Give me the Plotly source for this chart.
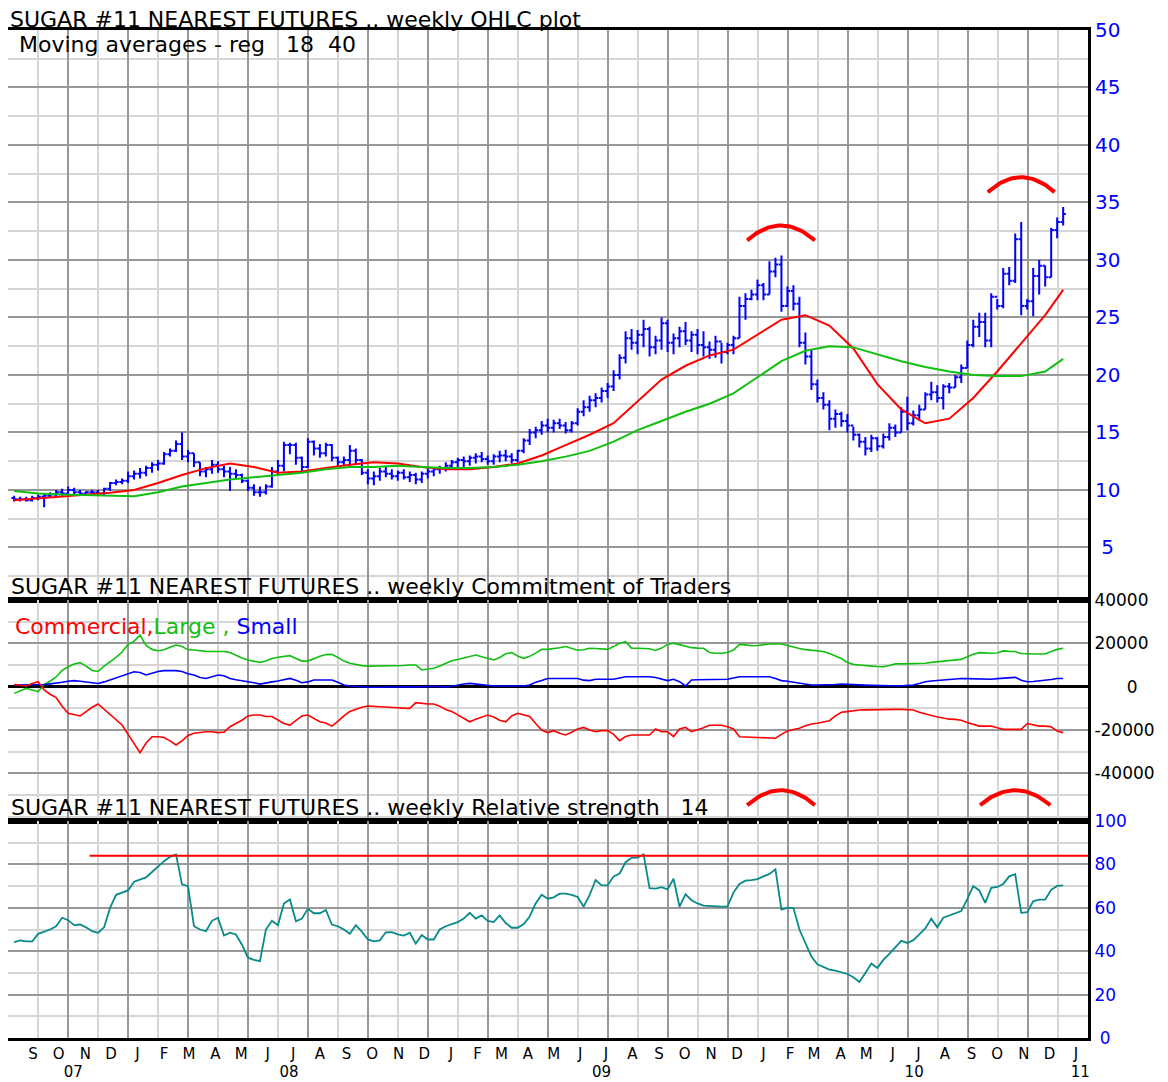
import pandas as pd
import numpy as np
import plotly.graph_objects as go

# ---------------- data ----------------
N_WEEKS = 176
first_week = "2007-08-24"
weeks = pd.date_range(first_week, periods=N_WEEKS, freq="7D")

price_open = [9.3,9.2,9.2,9.1,9.3,9.4,9.5,9.6,9.8,9.7,
              10.0,9.8,9.7,9.8,9.8,9.7,10.1,10.6,10.7,10.8,
              11.2,11.4,11.5,11.9,12.2,12.3,13.1,13.4,14.0,12.9,
              13.2,12.4,11.6,11.8,12.2,11.8,11.6,11.4,11.3,10.8,
              10.2,9.8,9.8,10.3,11.6,12.1,13.9,13.9,12.8,12.0,
              14.2,13.6,13.2,13.9,12.8,12.4,12.6,13.4,12.6,11.5,
              11.0,11.2,11.6,11.4,11.2,11.5,11.1,11.3,10.9,11.4,
              11.6,11.8,11.9,12.1,12.4,12.6,12.5,12.8,12.9,12.7,
              12.5,12.9,13.0,12.9,12.6,13.4,14.3,15.0,15.2,15.6,
              15.4,15.8,15.6,15.2,15.8,16.8,17.2,17.8,18.0,18.6,
              19.0,20.0,21.5,23.2,22.8,23.5,24.0,22.4,23.0,24.5,
              22.8,23.2,23.8,23.0,23.5,22.6,22.4,22.2,22.9,22.0,
              22.6,23.2,26.0,26.6,27.0,27.8,27.0,29.0,29.6,26.0,
              27.3,26.2,22.8,21.6,19.2,18.0,17.4,16.2,16.6,16.0,
              15.6,14.8,14.2,13.6,14.5,13.8,14.6,15.4,15.0,16.8,
              15.8,16.5,17.0,18.3,18.5,18.0,19.0,18.9,19.8,20.6,
              22.6,24.2,24.6,23.0,26.8,26.0,28.8,28.2,31.8,26.0,
              26.4,28.6,29.5,28.5,32.6,33.3]
price_high = [9.5,9.4,9.4,9.5,9.6,9.7,9.8,10.0,10.1,10.3,
              10.2,10.0,9.9,10.0,10.0,10.2,10.7,10.9,11.0,11.6,
              11.7,11.9,12.1,12.4,12.6,13.3,13.6,14.3,15.0,13.5,
              13.2,12.4,12.0,12.6,12.5,12.1,12.0,11.8,11.4,10.9,
              10.5,10.3,10.5,12.0,12.6,14.2,14.1,14.1,12.9,14.5,
              14.3,14.0,14.1,14.0,12.9,12.9,13.9,13.6,12.7,11.8,
              11.6,11.9,12.0,11.8,11.7,11.8,11.6,11.5,11.6,11.9,
              12.0,12.1,12.4,12.6,12.8,12.9,13.0,13.2,13.3,13.0,
              13.1,13.4,13.5,13.2,13.5,14.5,15.3,15.5,16.0,16.2,
              16.1,16.2,15.9,16.0,17.1,17.8,18.2,18.4,18.9,19.3,
              20.4,21.8,23.8,24.0,23.9,24.8,24.2,23.4,25.0,24.8,
              23.6,24.2,24.6,23.8,24.0,23.8,22.9,23.4,22.8,22.8,
              23.4,26.8,27.1,27.4,28.3,28.0,29.9,30.2,30.4,27.7,
              27.8,26.8,23.7,22.2,19.6,18.5,17.8,17.0,16.8,16.6,
              15.5,14.9,14.6,14.8,14.6,14.9,15.8,15.7,17.2,18.1,
              16.9,17.4,18.5,19.4,19.1,19.2,19.3,20.0,20.9,23.0,
              24.8,25.4,25.4,27.1,26.6,29.3,29.4,32.3,33.3,26.6,
              29.3,30.0,29.5,32.8,33.7,34.6]
price_low = [9.0,9.0,9.0,9.0,9.1,8.5,9.3,9.4,9.5,9.4,
             9.6,9.5,9.5,9.6,9.6,9.5,9.9,10.4,10.5,10.6,
             10.9,11.0,11.2,11.5,11.7,12.2,12.9,13.3,12.6,12.4,
             12.0,11.2,11.1,11.4,11.5,11.1,9.9,11.0,10.6,9.9,
             9.5,9.4,9.6,10.2,11.3,11.6,13.1,12.2,11.5,11.9,
             13.0,12.8,12.9,12.5,12.0,12.1,12.1,12.2,11.3,10.5,
             10.4,10.8,11.1,10.9,10.8,10.9,10.7,10.5,10.6,11.0,
             11.2,11.4,11.6,11.8,11.9,12.0,12.1,12.3,12.4,12.2,
             12.2,12.4,12.5,12.3,12.4,13.2,13.9,14.5,14.8,15.0,
             15.0,15.3,14.9,15.0,15.6,16.4,16.8,17.2,17.6,18.0,
             18.6,19.6,21.0,22.2,21.8,22.4,21.6,21.8,22.2,22.0,
             21.8,22.4,22.6,22.0,21.8,21.6,21.4,21.5,21.0,21.8,
             21.8,23.2,24.8,26.5,26.5,26.5,27.0,28.5,25.5,25.9,
             25.6,22.4,20.9,18.7,17.6,17.0,15.2,15.4,15.5,15.0,
             14.3,13.7,13.0,13.3,13.4,13.6,14.3,14.6,15.0,15.2,
             15.6,16.0,17.0,17.8,17.6,17.0,18.4,18.9,19.3,20.6,
             22.4,23.3,22.4,22.4,25.7,25.8,27.8,28.0,25.2,25.7,
             25.1,27.0,27.7,28.5,31.9,33.0]
price_close = [9.2,9.2,9.1,9.3,9.4,9.5,9.6,9.8,9.7,10.0,
               9.8,9.7,9.8,9.8,9.7,10.1,10.6,10.7,10.8,11.2,
               11.4,11.5,11.9,12.2,12.3,13.1,13.4,14.0,12.9,13.2,
               12.4,11.6,11.8,12.2,11.8,11.6,11.4,11.3,10.8,10.2,
               9.8,9.8,10.3,11.6,12.1,13.9,13.9,12.8,12.0,14.2,
               13.6,13.2,13.9,12.8,12.4,12.6,13.4,12.6,11.5,11.0,
               11.2,11.6,11.4,11.2,11.5,11.1,11.3,10.9,11.4,11.6,
               11.8,11.9,12.1,12.4,12.6,12.5,12.8,12.9,12.7,12.5,
               12.9,13.0,12.9,12.6,13.4,14.3,15.0,15.2,15.6,15.4,
               15.8,15.6,15.2,15.8,16.8,17.2,17.8,18.0,18.6,19.0,
               20.0,21.5,23.2,22.8,23.5,24.0,22.4,23.0,24.5,22.8,
               23.2,23.8,23.0,23.5,22.6,22.4,22.2,22.9,22.0,22.6,
               23.2,26.0,26.6,27.0,27.8,27.0,29.0,29.6,26.0,27.3,
               26.2,22.8,21.6,19.2,18.0,17.4,16.2,16.6,16.0,15.6,
               14.8,14.2,13.6,14.5,13.8,14.6,15.4,15.0,16.8,15.8,
               16.5,17.0,18.3,18.5,18.0,19.0,18.9,19.8,20.6,22.6,
               24.2,24.6,23.0,26.8,26.0,28.8,28.2,31.8,26.0,26.4,
               28.6,29.5,28.5,32.6,33.3,34.0]

# moving averages, read every 4th week
ma_weeks_idx = list(range(0, 176, 4)) + [175]
ma_18 = [9.1,9.25,9.4,9.6,9.75,10.0,10.6,11.3,11.9,12.3,
         12.0,11.5,11.6,11.9,12.2,12.4,12.3,12.0,11.8,11.8,
         12.0,12.3,13.0,13.9,14.8,15.8,17.7,19.6,20.8,21.7,
         22.2,23.5,24.8,25.2,24.3,22.3,19.2,17.0,15.8,16.2,
         18.0,20.3,22.8,25.2,27.4]
ma_40 = [9.9,9.7,9.6,9.55,9.5,9.45,9.8,10.3,10.6,10.9,
         11.1,11.3,11.5,11.8,12.0,12.0,12.1,12.0,11.9,11.9,
         12.0,12.2,12.5,12.9,13.4,14.2,15.2,16.0,16.8,17.5,
         18.4,19.8,21.2,22.1,22.5,22.4,21.8,21.2,20.7,20.3,
         20.0,19.9,19.9,20.3,21.4]

cot_commercial = [1000,800,300,1500,2300,-1500,-3500,-5000,-9000,-12300,
    -13000,-13500,-11500,-9500,-8000,-10500,-13100,-15500,-17700,-22000,
    -26000,-30500,-26000,-23100,-23100,-23500,-25000,-26900,-25000,-22500,
    -21500,-21000,-20800,-20800,-21200,-21000,-18500,-17000,-15500,-13500,
    -13100,-13100,-13800,-13800,-15500,-17000,-17700,-15500,-13500,-13100,
    -14500,-16200,-16800,-18200,-16000,-13500,-11500,-10500,-9500,-8900,
    -9000,-9300,-9500,-9500,-9700,-9900,-10000,-7400,-7800,-8000,
    -8000,-9000,-10500,-11500,-13000,-14500,-16200,-15000,-14000,-13100,
    -14000,-15500,-16200,-13500,-12300,-13000,-13800,-17000,-20000,-21200,
    -20300,-21500,-22300,-21000,-19500,-18800,-20000,-20800,-20300,-20300,
    -22000,-24900,-23000,-22300,-22300,-22300,-22300,-19500,-20800,-20800,
    -23000,-19500,-18800,-20800,-20000,-19000,-17800,-17800,-17800,-18500,
    -19500,-23100,-23200,-23300,-23400,-23500,-23700,-23800,-22000,-20500,
    -19800,-19200,-18000,-17200,-16900,-16300,-15700,-13500,-11800,-11500,
    -11000,-10800,-10700,-10600,-10500,-10500,-10500,-10500,-10500,-10500,
    -10800,-11800,-12600,-13500,-14000,-14500,-15000,-15100,-15500,-16500,
    -17500,-18200,-18200,-18200,-19000,-19700,-19700,-19700,-19700,-17000,
    -17500,-18200,-18200,-18500,-20500,-21200]
cot_large = [-3100,-2000,-800,-1500,-2300,1000,2500,4500,7500,9200,
    10500,11100,9500,7500,7000,9500,11500,13500,16000,19500,
    21000,23800,19000,17200,16600,17000,18200,19200,18500,17000,
    16900,16500,16300,16200,16200,16200,15800,14500,13200,12300,
    11800,11200,11800,13000,13600,14000,14300,13000,11800,11800,
    13000,14000,14800,14900,13500,11800,10800,10200,9700,9500,
    9500,9500,9500,9500,9600,9800,10000,10000,7700,8200,
    8500,9500,10800,12000,12500,13300,14000,14600,13800,13000,
    12300,13500,15200,15700,14200,13100,14000,15500,17200,17200,
    17500,18000,18500,17800,16800,17000,17700,17600,17300,17200,
    18500,20000,20800,17800,17700,17700,17500,16700,17800,19500,
    20000,19400,18800,18000,17800,17700,15800,15400,15400,15800,
    16900,19500,19300,18900,19000,19500,19700,19700,19700,19000,
    18200,17600,17100,16800,16600,16200,15300,14300,13000,11200,
    10300,10000,9600,9500,9300,9200,9800,10500,10500,10500,
    10500,10500,10800,11200,11500,11800,12000,12300,12600,13800,
    15000,15700,15500,15400,15500,16500,16300,16200,15300,15100,
    15100,15100,15100,16200,17200,17700]
cot_small = [800,800,800,800,800,1000,1300,1500,2000,2500,
    2800,2500,2200,1800,1500,2200,3100,4000,5000,6000,
    6900,6500,5400,6200,7000,7400,7400,7400,7000,6000,
    5400,4200,3800,4500,5400,5000,3800,3200,2800,2300,
    1800,1200,1800,2200,2600,3200,3800,3000,1800,2200,
    3100,3100,3100,3100,2000,800,300,0,-200,-300,
    -300,-300,-300,-300,-200,0,0,0,0,0,
    200,0,-100,200,800,1200,1500,1200,800,500,
    300,300,300,300,300,300,800,2000,2800,3800,
    3800,3800,3800,3800,3800,3000,2800,3400,3400,3400,
    3400,4000,4600,4600,4600,4600,4600,4200,3400,2800,
    3400,2300,300,3100,3200,3300,3400,3400,3400,3400,
    4000,4600,4600,4600,4600,4600,4600,3800,2800,2500,
    2000,1500,1000,800,800,800,800,1000,1200,1000,
    900,800,700,600,500,400,300,300,300,600,
    800,1500,2300,2600,2900,3200,3500,3700,3800,3700,
    3600,3500,3400,3400,3700,4000,4200,4300,3000,2300,
    2400,2600,2800,3300,3800,3800]

rsi_14 = [44.2,45,44.5,44.5,48,49,50,51.5,55.4,54.3,
    52,52.3,51,49.2,48.5,51,60,66,67,68,
    72,73.1,74,76.5,79,81.5,83.5,84.6,70.8,70,
    51.5,50,49.2,54,55.4,47.2,48.5,47.7,43,37,
    36,35.4,50,54,52,62,63.8,53.8,55,59.5,
    57.5,57.5,59,52.3,51.5,50,48,52,49,45.4,
    44.5,45,48.7,48.8,47.8,47.2,48.5,43.5,47.5,45.4,
    45.4,50,51.5,52.5,53.4,55,57.7,55,56.5,54,
    53.4,56.5,53,50.8,50.8,52.5,56,62,66,64.2,
    64.8,66.5,66.5,66,65,60.5,66,72.8,70.3,70.3,
    74.5,75.8,81,83,83.1,84.6,69,68.8,69.5,68.5,
    73.4,60.5,66.2,63.5,62,61,60.8,60.5,60.5,60.5,
    67,71,72.5,72.8,73.2,74.5,75.6,77.7,59.2,60,
    60,50,44,37.5,34,32.6,31.5,31,30.2,29.5,
    28,25.8,30,34.3,32.3,36,38.8,42,44.8,43.8,
    45.1,47.8,50.5,55,51,55.4,56.5,57.3,58.5,64,
    70,68,62.3,69.2,69.6,71,74.5,75.5,57.7,58,
    63,63.8,63.8,68.3,70.1,70.3]
rsi_level = 84
rsi_level_from = "2007-11-20"

# hand-drawn red arcs (start date, end date, base level, top level)
price_arcs = [("2009-12-27", "2010-03-16", 31.7, 33.0),
              ("2010-10-04", "2010-12-21", 35.9, 37.2)]
cot_arcs = [("2009-12-27", "2010-03-16", -54700, -47800),
            ("2010-09-25", "2010-12-16", -54700, -47800)]

month_ticks = pd.date_range("2007-09-01", "2011-01-01", freq="MS") + pd.Timedelta(days=14)
month_letters = [d.strftime("%b")[0] for d in month_ticks]
year_ticks = ["2007-11-01", "2008-07-10", "2009-07-10", "2010-07-10", "2011-01-20"]
year_labels = ["07", "08", "09", "10", "11"]

price_ticks = [5, 10, 15, 20, 25, 30, 35, 40, 45, 50]
price_tick_text = ["\u00a05", "10", "15", "20", "25", "30", "35", "40", "45", "50"]
cot_ticks = [40000, 20000, 0, -20000, -40000]
cot_tick_text = ["40000", "20000", "\u00a0\u00a0\u00a0\u00a0\u00a0\u00a00", "-20000", "-40000"]
rsi_ticks = [0, 20, 40, 60, 80, 100]
rsi_tick_text = ["\u00a00", "20", "40", "60", "80", "100"]

# ---------------- layout settings ----------------
X_START = pd.Timestamp("2007-08-16 19:00")
X_END = pd.Timestamp("2011-01-29")
grid_step_ms = (X_END - X_START).total_seconds() * 1000 / 36

FONT = "DejaVu Sans"
DARK = "#989898"
LIGHT = "#d6d6d6"
BLUE = "#0000ff"
RED = "#ff0000"
GREEN = "#10c010"

# the page body adds an 8px offset, so the figure is 8px smaller than the window
W, H = 1160, 1074
ML, MR, MT, MB = 0, 80, 22, 44
plot_h = H - MT - MB
def frac(py):  # window pixel row -> paper fraction
    return (H - MB - (py - 8)) / plot_h

dom_price = [frac(600), 1.0]
dom_cot = [frac(821), frac(600)]
dom_rsi = [0.0, frac(821)]

fig = go.Figure()

fig.add_trace(go.Ohlc(
    x=weeks, open=price_open, high=price_high, low=price_low, close=price_close,
    increasing=dict(line=dict(color=BLUE, width=2)),
    decreasing=dict(line=dict(color=BLUE, width=2)),
    tickwidth=0.45, xaxis="x", yaxis="y", hoverinfo="skip"))

ma_dates = weeks[ma_weeks_idx]
fig.add_trace(go.Scatter(x=ma_dates, y=ma_18, mode="lines",
                         line=dict(color=RED, width=2), xaxis="x", yaxis="y"))
fig.add_trace(go.Scatter(x=ma_dates, y=ma_40, mode="lines",
                         line=dict(color=GREEN, width=2), xaxis="x", yaxis="y"))

fig.add_trace(go.Scatter(x=weeks, y=cot_large, mode="lines",
                         line=dict(color=GREEN, width=1.6), xaxis="x2", yaxis="y2"))
fig.add_trace(go.Scatter(x=weeks, y=cot_small, mode="lines",
                         line=dict(color=BLUE, width=1.6), xaxis="x2", yaxis="y2"))
fig.add_trace(go.Scatter(x=weeks, y=cot_commercial, mode="lines",
                         line=dict(color=RED, width=1.6), xaxis="x2", yaxis="y2"))

fig.add_trace(go.Scatter(x=weeks, y=rsi_14, mode="lines",
                         line=dict(color="#088a8a", width=1.8), xaxis="x3", yaxis="y3"))
fig.add_trace(go.Scatter(x=[pd.Timestamp(rsi_level_from), X_END], y=[rsi_level, rsi_level],
                         mode="lines", line=dict(color=RED, width=2), xaxis="x4", yaxis="y3"))
fig.add_trace(go.Scatter(x=[], y=[], xaxis="x5", yaxis="y3"))

t = np.linspace(0, 1, 31)
def arc_points(a):
    s, e, base, top = pd.Timestamp(a[0]), pd.Timestamp(a[1]), a[2], a[3]
    xs = [s + (e - s) * v for v in t]
    ys = base + (top - base) * (1 - (2 * t - 1) ** 2)
    return xs, ys
for a in price_arcs:
    xs, ys = arc_points(a)
    fig.add_trace(go.Scatter(x=xs, y=ys, mode="lines", line=dict(color=RED, width=4),
                             xaxis="x", yaxis="y"))
for a in cot_arcs:
    xs, ys = arc_points(a)
    fig.add_trace(go.Scatter(x=xs, y=ys, mode="lines", line=dict(color=RED, width=4),
                             xaxis="x2", yaxis="y2"))

xgrid = dict(type="date", range=[X_START, X_END], tick0=X_START, dtick=2 * grid_step_ms,
             showgrid=True, gridcolor=DARK, gridwidth=2,
             minor=dict(tick0=X_START, dtick=grid_step_ms, showgrid=True,
                        gridcolor=LIGHT, gridwidth=2),
             showticklabels=False, ticks="", showline=True, mirror=True,
             linecolor="black", linewidth=3, zeroline=False, automargin=False,
             rangeslider=dict(visible=False), fixedrange=True)

def yax(domain, rng, tickvals, ticktext, minor, color, size, anchor):
    return dict(domain=domain, range=rng, side="right", anchor=anchor,
                tickmode="array", tickvals=tickvals, ticktext=ticktext,
                showgrid=True, gridcolor=DARK, gridwidth=2,
                minor=dict(tickmode="linear", tick0=0, dtick=minor, showgrid=True,
                           gridcolor=LIGHT, gridwidth=2),
                ticks="", showline=True, mirror=True, linecolor="black", linewidth=3,
                tickfont=dict(family=FONT, size=size, color=color), automargin=False,
                zeroline=False, fixedrange=True)

label_axis = dict(type="date", range=[X_START, X_END], overlaying="x3", anchor="y3",
                  side="bottom", tickmode="array", showgrid=False, ticks="",
                  showline=False, zeroline=False, automargin=False, fixedrange=True,
                  tickfont=dict(family=FONT, size=15, color="black"))

layout = dict(
    width=W, height=H, margin=dict(l=ML, r=MR, t=MT, b=MB, autoexpand=False),
    paper_bgcolor="white", plot_bgcolor="white", showlegend=False,
    font=dict(family=FONT, color="black"),
    xaxis=dict(xgrid, anchor="y"),
    xaxis2=dict(xgrid, anchor="y2"),
    xaxis3=dict(xgrid, anchor="y3"),
    xaxis4=dict(label_axis, tickvals=month_ticks, ticktext=month_letters, ticklabelstandoff=5),
    xaxis5=dict(label_axis, tickvals=year_ticks, ticktext=year_labels, ticklabelstandoff=23),
    yaxis=yax(dom_price, [0.43, 50], price_ticks, price_tick_text, 2.5, BLUE, 20, "x"),
    yaxis2=yax(dom_cot, [-62000, 40000], cot_ticks, cot_tick_text, 10000, "black", 17, "x2"),
    yaxis3=yax(dom_rsi, [0, 100], rsi_ticks, rsi_tick_text, 10, BLUE, 17, "x3"),
)
fig.update_layout(**layout)
fig.update_layout(yaxis2=dict(zeroline=True, zerolinecolor="black", zerolinewidth=3))

ann_font = dict(family=FONT, size=22, color="black")
fig.add_annotation(text="SUGAR #11 NEAREST FUTURES .. weekly OHLC plot",
                   xref="paper", yref="paper", x=0, y=1, xanchor="left", yanchor="bottom",
                   xshift=1, yshift=-3, height=24, valign="bottom", borderpad=0,
                   showarrow=False, font=ann_font)
fig.add_annotation(text="Moving averages - reg\u00a0\u00a0\u00a018\u00a0\u00a040",
                   xref="paper", yref="paper", x=0, y=1, xanchor="left", yanchor="top",
                   xshift=9, yshift=0, showarrow=False, font=ann_font)
fig.add_annotation(text="SUGAR #11 NEAREST FUTURES .. weekly Commitment of Traders",
                   xref="paper", yref="paper", x=0, y=dom_cot[1], xanchor="left", yanchor="bottom",
                   xshift=1, yshift=-1, showarrow=False, font=ann_font)
fig.add_annotation(text=("<span style='color:#ff0000'>Commercial,</span>"
                         "<span style='color:#10c010'>Large ,</span>"
                         "<span style='color:#0000ff'> Small</span>"),
                   xref="paper", yref="paper", x=0, y=dom_cot[1], xanchor="left", yanchor="top",
                   xshift=5, yshift=-12, showarrow=False, font=dict(family=FONT, size=22))
fig.add_annotation(text="SUGAR #11 NEAREST FUTURES .. weekly Relative strength\u00a0\u00a0\u00a014",
                   xref="paper", yref="paper", x=0, y=dom_rsi[1], xanchor="left", yanchor="bottom",
                   xshift=1, yshift=-1, showarrow=False, font=ann_font)

fig.write_html("out.html")
